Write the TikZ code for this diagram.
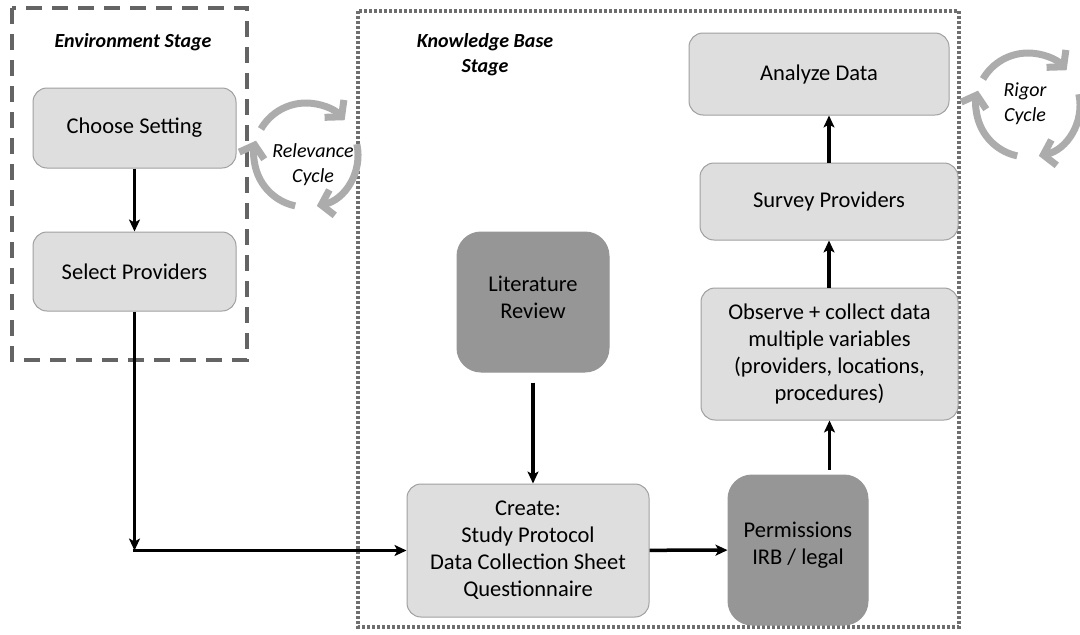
\documentclass[tikz,border=0pt]{standalone}
\usepackage{fontspec}
\setmainfont{Carlito}
\usetikzlibrary{arrows.meta,calc}

\definecolor{boxlight}{RGB}{222,222,222}
\definecolor{boxline}{RGB}{160,160,160}
\definecolor{boxdark}{RGB}{150,150,150}
\definecolor{frameenv}{RGB}{100,100,100}
\definecolor{framekb}{RGB}{110,110,110}
\definecolor{cyclegray}{RGB}{172,172,172}

\tikzset{
  lightbox/.style={draw=boxline, line width=1pt, fill=boxlight, rounded corners=14pt,
    inner sep=0pt, align=center, font=\fontsize{22.5}{27}\selectfont},
  darkbox/.style={draw=boxdark, line width=1pt, fill=boxdark, rounded corners=24pt,
    inner sep=0pt},
  boxtext/.style={inner sep=0pt, align=center, font=\fontsize{22.5}{27}\selectfont},
  flow/.style={line width=3.5pt, -{Stealth[length=12pt,width=11pt,inset=3pt]}},
  stagelabel/.style={font=\fontsize{20}{25}\selectfont\bfseries\itshape, align=center},
  cyclelabel/.style={font=\fontsize{20}{25}\selectfont\itshape, align=center},
  cyclearc/.style={draw=cyclegray, line width=7pt,
    -{Straight Barb[length=11pt,width=26pt]}},
}

\begin{document}
\begin{tikzpicture}[x=1pt,y=-1pt]
\useasboundingbox (0,0) rectangle (1080,635);

% stage frames
\draw[frameenv, line width=4pt, dash pattern=on 16pt off 10pt] (12,8) rectangle (247,360);
\draw[framekb, line width=3.5pt, dash pattern=on 3pt off 2pt] (358,11) rectangle (959,627);

\node[stagelabel] (envlabel) at (133,42) {Environment Stage};
\node[stagelabel] (kblabel) at (485,55) {Knowledge Base\\Stage};

% environment stage steps
\node[lightbox, minimum width=203pt, minimum height=80pt] (choose) at (134.5,128) {Choose Setting};
\node[lightbox, minimum width=203pt, minimum height=79pt] (select) at (134.5,271.5) {Select Providers};

% knowledge base steps
\node[darkbox, minimum width=152pt, minimum height=140pt] (lit) at (533,302) {};
\node[boxtext] (littext) at ([yshift=5pt]lit.center) {Literature\\Review};
\node[lightbox, minimum width=242pt, minimum height=133pt] (create) at (528,550.5)
  {Create:\\Study Protocol\\Data Collection Sheet\\Questionnaire};
\node[darkbox, minimum width=140pt, minimum height=150pt] (perm) at (798,550) {};
\node[boxtext] (permtext) at ([yshift=5pt]perm.center) {Permissions\\IRB / legal};
\node[lightbox, minimum width=257pt, minimum height=132pt] (observe) at (829.5,354)
  {Observe + collect data\\multiple variables\\(providers, locations,\\procedures)};
\node[lightbox, minimum width=258pt, minimum height=77pt] (survey) at (829,201.5) {Survey Providers};
\node[lightbox, minimum width=260pt, minimum height=82pt] (analyze) at (819,74) {Analyze Data};

% connectors
\coordinate (corner) at (select.south |- create.west);
\draw[flow] (choose) -- (select);
\draw[flow] (select) -- (corner);
\draw[flow, shorten <=-1.75pt] (corner) -- (create.west);
\draw[flow, shorten <=10pt] (lit) -- (lit.south |- create.north);
\draw[flow] (create) -- (perm);
\draw[flow, shorten <=5pt] (observe.south |- perm.north) -- (observe.south);
\draw[flow] (observe.north -| survey.south) -- (survey.south);
\draw[flow] (survey.north) -- (survey.north |- analyze.south);

% relevance cycle
\coordinate (relc) at (306,155);
\draw[cyclearc] (relc) ++(-150:52) arc[start angle=-150, end angle=-42, radius=52];
\draw[cyclearc] (relc) ++(-12:52) arc[start angle=-12, end angle=78, radius=52];
\draw[cyclearc] (relc) ++(102:52) arc[start angle=102, end angle=196, radius=52];
\node[cyclelabel] (rellabel) at (313,165) {Relevance\\Cycle};

% rigor cycle
\coordinate (rigc) at (1028,105);
\draw[cyclearc] (rigc) ++(-150:52) arc[start angle=-150, end angle=-42, radius=52];
\draw[cyclearc] (rigc) ++(-12:52) arc[start angle=-12, end angle=78, radius=52];
\draw[cyclearc] (rigc) ++(102:52) arc[start angle=102, end angle=196, radius=52];
\node[cyclelabel] (riglabel) at (1025,104) {Rigor\\Cycle};
\end{tikzpicture}
\end{document}
